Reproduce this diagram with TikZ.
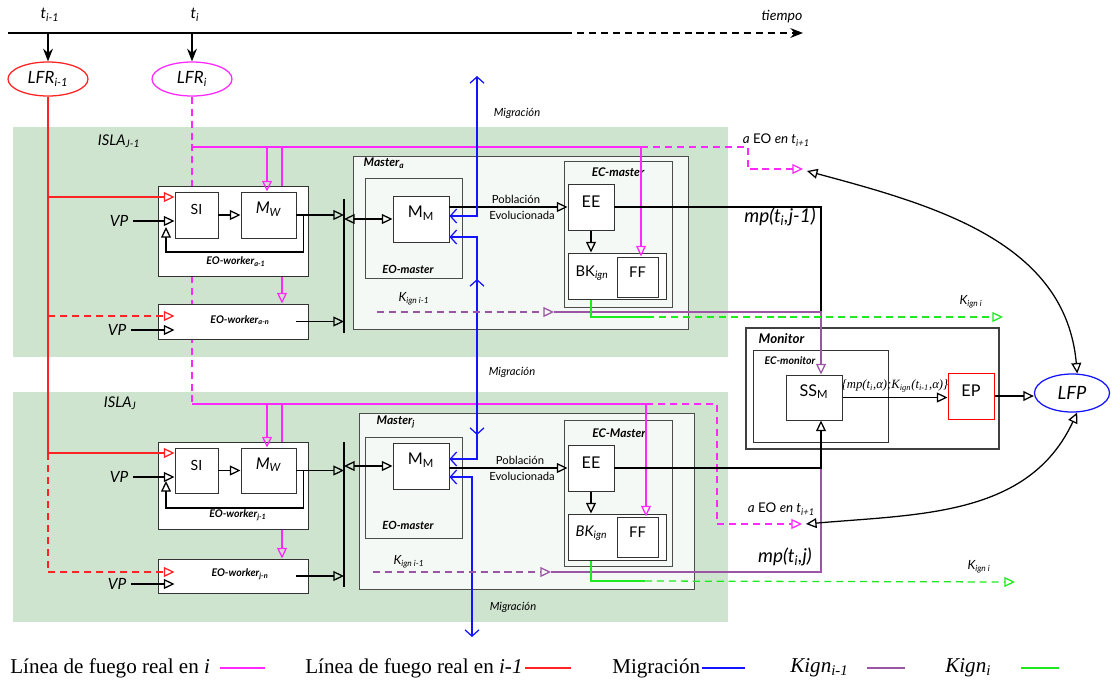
\documentclass[tikz,border=0pt]{standalone}
\usepackage{fontspec}
\setmainfont{Lato}
\newfontfamily\leyenda{Liberation Serif}
\usetikzlibrary{arrows.meta,fit,shapes.geometric,calc,positioning}
\pgfdeclarelayer{fondo}
\pgfdeclarelayer{detras}
\pgfsetlayers{fondo,detras,main}
\newcommand\tam[1]{\fontsize{#1}{#1}\selectfont}
\newcommand\bajo[1]{\textsubscript{#1}}
\definecolor{islaverde}{RGB}{207,228,207}
\definecolor{masterfondo}{RGB}{245,249,245}
\definecolor{fuegoi}{RGB}{255,40,255}
\definecolor{fuegoant}{RGB}{255,35,35}
\definecolor{migra}{RGB}{20,20,255}
\definecolor{kant}{RGB}{155,85,165}
\definecolor{kact}{RGB}{30,235,30}
\tikzset{
  tria/.tip={Triangle[open,length=7.5pt,width=7pt]},
  barba/.tip={Straight Barb[length=4.5pt,width=10pt]},
}
\begin{document}
\begin{tikzpicture}[x=0.025cm, y=-0.025cm,
  caja/.style={draw=black!80, fill=white, inner sep=0pt, line width=0.7pt, font=\tam{10}},
  cajam/.style={caja, draw=black!70, fill=masterfondo},
  elipse/.style={linea, ellipse, inner sep=0pt, minimum width=2cm, minimum height=0.85cm, font=\tam{12}\itshape},
  tit/.style={font=\tam{8}\bfseries\itshape, inner sep=1pt},
  txt/.style={font=\tam{7.5}, inner sep=1pt},
  linea/.style={line width=0.9pt},
  tri/.style={-tria},
  dtri/.style={tria-tria},
  guion/.style={dash pattern=on 5pt off 3.5pt},
  rosa/.style={linea, fuegoi},
  rojo/.style={linea, fuegoant},
  azul/.style={linea, migra},
  morado/.style={linea, kant},
  verde/.style={linea, kact}]
  \useasboundingbox (0,0) rectangle (1112,687);

  % islands
  \begin{pgfonlayer}{fondo}
    \fill[islaverde] (13,127) rectangle (728,357);
    \fill[islaverde] (13,392) rectangle (728,622);
  \end{pgfonlayer}
  \node[font=\tam{10.5}\itshape, anchor=west] (islaA) at (93,141) {ISLA\bajo{J-1}};
  \node[font=\tam{10.5}\itshape, anchor=west] (islaJ) at (99,403) {ISLA\bajo{J}};

  % time line
  \coordinate (tini) at (8,33);
  \coordinate (tcorte) at (565,33);
  \coordinate (tfin) at (803,33);
  \draw[linea] (tini) -- (tcorte);
  \draw[linea, guion, -{Stealth[length=9pt,width=7pt]}] (tcorte) -- (tfin);
  \node[font=\tam{10}\itshape] (tiempo) at (782,17) {tiempo};
  \node[font=\tam{11}\itshape] (tA) at (50,15) {t\bajo{i-1}};
  \node[font=\tam{11}\itshape] (tB) at (195,15) {t\bajo{i}};
  \node[draw=fuegoant, elipse] (lfrA) at (48,79) {LFR\bajo{i-1}};
  \node[draw=fuegoi, elipse] (lfrB) at (192,79) {LFR\bajo{i}};
  \coordinate (tAa) at (48,33);
  \coordinate (tBb) at (192,33);
  \draw[linea, -{Stealth[length=9pt,width=7pt]}] (tAa) -- (lfrA.north);
  \draw[linea, -{Stealth[length=9pt,width=7pt]}] (tBb) -- (lfrB.north);

  % island j-1
  \node[caja, fit={(158,186) (308,276)}] (EOa1) {};
  \node[caja, fit={(175,192) (218,238)}] (SIa) {SI};
  \node[caja, fit={(241,192) (296,238)}, font=\tam{11.5}\itshape] (MWa) {M\bajo{W}};
  \node[tit, font=\tam{7.5}\bfseries\itshape] (EOa1lbl) at (236,262) {EO-worker\bajo{a-1}};
  \node[caja, fit={(158,304) (308,339)}] (EOan) {};
  \node[tit, font=\tam{7.5}\bfseries\itshape] (EOanlbl) at (240,320) {EO-worker\bajo{a-n}};
  \node[cajam, fit={(353,156) (688,329)}] (MastA) {};
  \node[tit, font=\tam{8.5}\bfseries\itshape, anchor=west] (MastAlbl) at (362,163) {Master\bajo{a}};
  \node[cajam, fit={(365,178) (462,278)}] (EOMa) {};
  \node[tit] (EOMalbl) at (408,269) {EO-master};
  \node[caja, fit={(393,196) (449,242)}, font=\tam{11.5}] (MMa) {M\bajo{M}};
  \node[cajam, fit={(564,161) (672,307)}] (ECa) {};
  \node[tit, font=\tam{8.5}\bfseries\itshape] (ECalbl) at (618,172) {EC-master};
  \node[caja, fit={(568,184) (614,230)}, font=\tam{11.5}] (EEa) {EE};
  \node[caja, fit={(568,253) (666,299)}] (BKa) {};
  \node[font=\tam{10.5}, anchor=west, inner sep=1pt] (BKalbl) at (574,273) {BK\bajo{\itshape ign}};
  \node[caja, fit={(617,257) (658,297)}, font=\tam{10.5}] (FFa) {FF};

  % island j
  \node[caja, fit={(158,442) (308,529)}] (EOj1) {};
  \node[caja, fit={(175,448) (218,493)}] (SIj) {SI};
  \node[caja, fit={(241,448) (296,493)}, font=\tam{11.5}\itshape] (MWj) {M\bajo{W}};
  \node[tit, font=\tam{7.5}\bfseries\itshape] (EOj1lbl) at (238,515) {EO-worker\bajo{j-1}};
  \node[caja, fit={(158,559) (308,593)}] (EOjn) {};
  \node[tit, font=\tam{7.5}\bfseries\itshape] (EOjnlbl) at (240,574) {EO-worker\bajo{j-n}};
  \node[cajam, fit={(359,413) (694,589)}] (MastJ) {};
  \node[tit, font=\tam{8.5}\bfseries\itshape, anchor=west] (MastJlbl) at (375,422) {Master\bajo{j}};
  \node[cajam, fit={(365,437) (462,538)}] (EOMj) {};
  \node[tit] (EOMjlbl) at (408,525) {EO-master};
  \node[caja, fit={(393,443) (449,489)}, font=\tam{11.5}] (MMj) {M\bajo{M}};
  \node[cajam, fit={(564,420) (672,566)}] (ECj) {};
  \node[tit, font=\tam{8.5}\bfseries\itshape] (ECjlbl) at (619,433) {EC-Master};
  \node[caja, fit={(568,445) (614,491)}, font=\tam{11.5}] (EEj) {EE};
  \node[caja, fit={(568,514) (666,560)}] (BKj) {};
  \node[font=\tam{10.5}\itshape, anchor=west, inner sep=1pt] (BKjlbl) at (574,533) {BK\bajo{ign}};
  \node[caja, fit={(617,517) (658,557)}, font=\tam{10.5}] (FFj) {FF};

  % monitor
  \node[caja, draw=black!75, line width=1pt, fit={(746,328) (999,449)}] (Mon) {};
  \node[tit, font=\tam{9.5}\bfseries\itshape, anchor=west] (Monlbl) at (757,339) {Monitor};
  \node[caja, fit={(753,350) (888,442)}] (ECmon) {};
  \node[tit, font=\tam{7.5}\bfseries\itshape, anchor=west] (ECmonlbl) at (763,361) {EC-monitor};
  \node[caja, fit={(786,375) (842,420)}, font=\tam{11.5}] (SSM) {SS\bajo{M}};
  \node[caja, draw=red, fit={(948,373) (994,419)}, font=\tam{11.5}] (EP) {EP};
  \node[draw=migra, elipse, minimum width=1.875cm, minimum height=0.95cm, font=\tam{13}\itshape] (LFP) at (1072,393) {LFP};

  % bars
  \coordinate (barA1) at (344,199);
  \coordinate (barA2) at (344,333);
  \coordinate (barJ1) at (344,442);
  \coordinate (barJ2) at (344,587);
  \draw[line width=1pt] (barA1) -- (barA2);
  \draw[line width=1pt] (barJ1) -- (barJ2);

  % real fire line i (behind the workers)
  \coordinate (rA) at (192,147);
  \coordinate (rB) at (192,404);
  \coordinate (rA1) at (267,147);
  \coordinate (rA2) at (282,147);
  \coordinate (rB1) at (267,404);
  \coordinate (rB2) at (282,404);
  \coordinate (rosaFa) at (641,147);
  \coordinate (rosaFj) at (646,404);
  \coordinate (aEOa) at (803,169);
  \coordinate (aEOj) at (802,524);
  \begin{pgfonlayer}{detras}
    \draw[rosa, guion] (lfrB.south) -- (rA) -- (rB);
    \draw[rosa, tri] (rA2) -- (EOan.north -| rA2);
    \draw[rosa, tri] (rB2) -- (EOjn.north -| rB2);
  \end{pgfonlayer}
  \draw[rosa] (rA) -- (rosaFa);
  \draw[rosa] (rB) -- (rosaFj);
  \draw[rosa, tri] (rA1) -- (MWa.north -| rA1);
  \draw[rosa, tri] (rB1) -- (MWj.north -| rB1);
  \draw[rosa, tri] (rosaFa) -- (FFa.north -| rosaFa);
  \draw[rosa, tri] (rosaFj) -- (FFj.north -| rosaFj);
  \draw[rosa, guion, tri] (rosaFa) -- ++(107,0) |- (aEOa);
  \draw[rosa, guion, tri] (rosaFj) -- ++(71,0) |- (aEOj);
  \node[font=\tam{9.5}, anchor=west] (aEOalbl) at (738,140) {\textit{a} EO \textit{en t}\bajo{\itshape i+1}};
  \node[font=\tam{9.5}, anchor=west] (aEOjlbl) at (743,509) {\textit{a} EO \textit{en t}\bajo{\itshape i+1}};

  % real fire line i-1
  \coordinate (rojoAn) at (48,316);
  \coordinate (rojoJ) at (48,453);
  \coordinate (rojoFin) at (48,572);
  \draw[rojo] (lfrA.south) -- (rojoJ);
  \draw[rojo, guion] (rojoJ) -- (rojoFin);
  \draw[rojo, tri] (lfrA.south) |- (SIa.west |- 0,197);
  \draw[rojo, guion, tri] (rojoAn) -- (SIa.west |- rojoAn);
  \draw[rojo, tri] (rojoJ) -- (SIj.west |- rojoJ);
  \draw[rojo, guion, tri] (rojoFin) -- (SIj.west |- rojoFin);

  % workers j-1
  \node[font=\tam{11}\itshape] (VPa1) at (119,221) {VP};
  \node[font=\tam{11}\itshape] (VPan) at (117,330) {VP};
  \coordinate (retA) at (166,227);
  \draw[linea, tri] (VPa1.east) -- (SIa.west |- VPa1.east);
  \draw[linea, tri] (VPan.east) -- (SIa.west |- VPan.east);
  \draw[linea, tri] (SIa) -- (MWa);
  \draw[linea, tri] (MWa.east) -- ++(7,0) |- (retA |- 0,252) -- (retA);
  \draw[linea, tri] (MWa.east) -- (barA1 |- MWa.east);
  \draw[linea, tri] ($(EOan.east)+(-12,0)$) -- (barA1 |- EOan.east);
  \draw[linea, dtri] (barA1 |- MMa.west) -- (MMa.west);

  % workers j
  \node[font=\tam{11}\itshape] (VPj1) at (119,477) {VP};
  \node[font=\tam{11}\itshape] (VPjn) at (117,584) {VP};
  \coordinate (retJ) at (166,481);
  \draw[linea, tri] (VPj1.east) -- (SIj.west |- VPj1.east);
  \draw[linea, tri] (VPjn.east) -- (SIj.west |- VPjn.east);
  \draw[linea, tri] (SIj) -- (MWj);
  \draw[linea, tri] (MWj.east) -- ++(7,0) |- (retJ |- 0,508) -- (retJ);
  \draw[linea, tri] (MWj.east) -- (barJ1 |- MWj.east);
  \draw[linea, tri] ($(EOjn.east)+(-12,0)$) -- (barJ1 |- EOjn.east);
  \draw[linea, dtri] (barJ1 |- MMj.west) -- (MMj.west);

  % masters
  \draw[linea, tri] (MMa.east |- EEa.west) -- (EEa.west);
  \node[txt, font=\tam{8}] (pobA) at (516,199) {Población};
  \node[txt, font=\tam{8}] (evoA) at (522,215) {Evolucionada};
  \draw[linea, tri] (EEa.south) -- (EEa.south |- BKa.north);
  \draw[linea, tri] (MMj.east |- EEj.west) -- (EEj.west);
  \node[txt, font=\tam{8}] (pobJ) at (520,460) {Población};
  \node[txt, font=\tam{8}] (evoJ) at (522,476) {Evolucionada};
  \draw[linea, tri] (EEj.south) -- (EEj.south |- BKj.north);

  % migration
  \coordinate (migSup) at (477,76);
  \coordinate (migMed) at (477,350);
  \coordinate (migInf) at (472,637);
  \draw[azul, barba-barba] (migSup) |- (MMa.east |- 0,216);
  \draw[azul, barba-barba] (MMa.east |- 0,237) -| (migMed) |- (MMj.east |- 0,459);
  \draw[azul, -barba] (migMed) -- (477,279);
  \draw[azul, -barba] (migMed) -- (477,435);
  \draw[azul, barba-barba] (MMj.east |- 0,477) -| (migInf);
  \node[font=\tam{8}\itshape] (migLa) at (517,113) {Migración};
  \node[font=\tam{8}\itshape] (migLb) at (512,372) {Migración};
  \node[font=\tam{8}\itshape] (migLc) at (513,607) {Migración};

  % Kign i-1 and mp to the monitor
  \coordinate (kAini) at (377,312);
  \coordinate (kAfin) at (554,312);
  \coordinate (kBini) at (373,572);
  \coordinate (kBfin) at (551,572);
  \coordinate (colMon) at (821,203);
  \draw[linea] (EEa.east) -| (colMon |- kAfin);
  \draw[morado, guion, tri] (kAini) -- (kAfin);
  \draw[morado, tri] (kAfin) -| (SSM.north -| colMon);
  \draw[morado, guion, tri] (kBini) -- (kBfin);
  \draw[morado] (kBfin) -| (colMon |- EEj.east);
  \draw[linea, tri] (EEj.east) -| (SSM.south -| colMon);
  \node[font=\tam{9}\itshape] (kAlbl) at (414,299) {K\bajo{ign i-1}};
  \node[font=\tam{9}\itshape] (kBlbl) at (409,562) {K\bajo{ign i-1}};
  \node[font=\tam{13.5}\itshape] (mpA) at (780,217) {mp(t\bajo{i},j-1)};
  \node[font=\tam{13.5}\itshape] (mpJ) at (785,557) {mp(t\bajo{i},j)};

  % Kign i
  \coordinate (vA) at (647,317);
  \coordinate (vAfin) at (1003,317);
  \coordinate (vB) at (645,581);
  \coordinate (vBfin) at (1015,582);
  \draw[verde] (EEa.south |- BKa.south) |- (vA);
  \draw[verde, guion, tri] (vA) -- (vAfin);
  \draw[verde] (EEj.south |- BKj.south) |- (vB);
  \draw[verde, guion, tri] (vB) -- (vBfin);
  \node[font=\tam{9}\itshape] (kiAlbl) at (971,302) {K\bajo{ign i}};
  \node[font=\tam{9}\itshape] (kiBlbl) at (979,567) {K\bajo{ign i}};

  % monitor flow
  \draw[linea, tri] (SSM.east) -- (EP.west |- SSM.east);
  \node[font=\leyenda\tam{9}\itshape] (setLbl) at (895,386) {\{mp(t\bajo{i},α);K\bajo{ign}(t\bajo{i-1},α)\}};
  \draw[linea, tri] (EP.east) -- (LFP.west |- EP.east);
  \coordinate (curvA) at (807,171);
  \coordinate (curvJ) at (806,524);
  \draw[linea, dtri] (curvA) to[out=-15, in=95] (LFP.75);
  \draw[linea, dtri] (curvJ) to[out=5, in=-115] (LFP.-75);

  % legend
  \node[font=\leyenda\tam{15}, anchor=west, inner sep=0pt] (legA) at (10,668) {Línea de fuego real en \textit{i}};
  \draw[rosa, line width=1.3pt] (legA.east) ++(10,0) -- ++(45,0);
  \node[font=\leyenda\tam{15}, anchor=west, inner sep=0pt] (legB) at (305,668) {Línea de fuego real en \textit{i-1}};
  \draw[rojo, line width=1.3pt] (legB.east) ++(2,0) -- ++(46,0);
  \node[font=\leyenda\tam{15}, anchor=west, inner sep=0pt] (legC) at (612,668) {Migración};
  \draw[azul, line width=1.3pt] (legC.east) ++(2,0) -- ++(43,0);
  \node[font=\leyenda\tam{15}, anchor=west, inner sep=0pt] (legD) at (790,668) {\textit{Kign}\bajo{\itshape i-1}};
  \draw[morado, line width=1.3pt] (legD.east) ++(18,0) -- ++(38,0);
  \node[font=\leyenda\tam{15}, anchor=west, inner sep=0pt] (legE) at (945,668) {\textit{Kign}\bajo{\itshape i}};
  \draw[verde, line width=1.3pt] (legE.east) ++(30,0) -- ++(38,0);
\end{tikzpicture}
\end{document}
